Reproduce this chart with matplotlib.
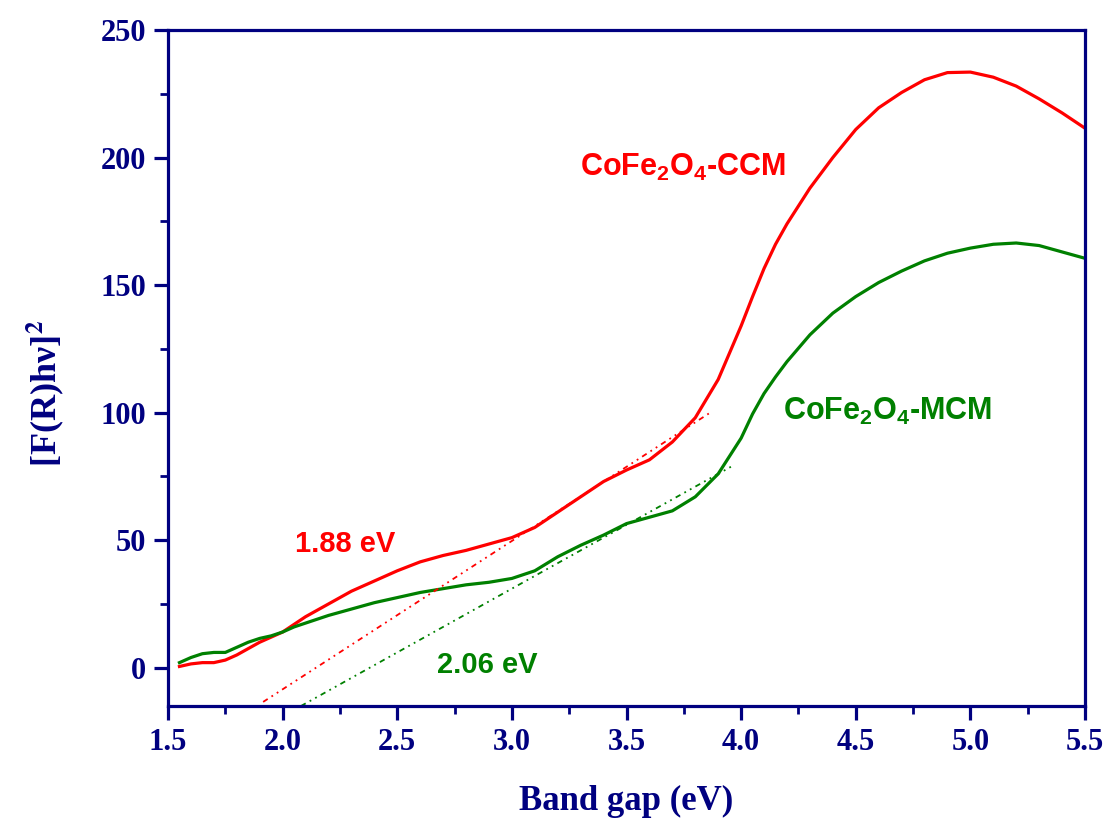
import matplotlib
matplotlib.use("Agg")
import matplotlib.pyplot as plt
import numpy as np

# ---- data ----
energy = [1.55, 1.60, 1.65, 1.70, 1.75, 1.80, 1.85, 1.90, 1.95, 2.00, 2.05, 2.10,
          2.20, 2.30, 2.40, 2.50, 2.60, 2.70, 2.80, 2.90, 3.00, 3.10, 3.20, 3.30,
          3.40, 3.50, 3.60, 3.70, 3.80, 3.90, 4.00, 4.05, 4.10, 4.15, 4.20, 4.30, 4.40,
          4.50, 4.60, 4.70, 4.80, 4.90, 5.00, 5.10, 5.20, 5.30, 5.40, 5.50]
ccm = [0.5, 1.5, 2.0, 2.0, 3.0, 5.0, 7.5, 10.0, 12.0, 14.0, 17.0, 20.0,
       25.0, 30.0, 34.0, 38.0, 41.5, 44.0, 46.0, 48.5, 51.0, 55.0, 61.0, 67.0,
       73.0, 77.5, 81.5, 88.5, 98.0, 113.0, 134.0, 145.5, 156.5, 166.0, 174.0, 188.0, 200.0,
       211.0, 219.5, 225.5, 230.5, 233.3, 233.5, 231.5, 228.0, 223.0, 217.5, 211.5]
mcm = [2.0, 4.0, 5.5, 6.0, 6.0, 8.0, 10.0, 11.5, 12.5, 14.0, 16.0, 17.5,
       20.5, 23.0, 25.5, 27.5, 29.5, 31.0, 32.5, 33.5, 35.0, 38.0, 43.5, 48.0,
       52.0, 56.5, 59.0, 61.5, 67.0, 76.0, 90.0, 99.5, 107.5, 114.0, 120.0, 130.5, 139.0,
       145.5, 151.0, 155.5, 159.5, 162.5, 164.5, 166.0, 166.5, 165.5, 163.0, 160.5]
ccm_fit_x = [1.915, 3.865]
ccm_fit_y = [-13.4, 100.0]
mcm_fit_x = [2.08, 3.96]
mcm_fit_y = [-15.0, 79.0]
xticks = [1.5, 2.0, 2.5, 3.0, 3.5, 4.0, 4.5, 5.0, 5.5]
yticks = [0, 50, 100, 150, 200, 250]

navy = "#000080"
red = "#FF0000"
green = "#008000"

plt.rcParams["mathtext.fontset"] = "custom"
plt.rcParams["mathtext.rm"] = "Liberation Sans"
plt.rcParams["mathtext.bf"] = "Liberation Sans:bold"

fig = plt.figure(figsize=(11.05, 8.19), dpi=100)
ax = fig.add_axes([168/1105, 1-706/819, (1085-168)/1105, (706-30)/819])

ax.plot(energy, ccm, color=red, lw=2.3, solid_joinstyle="round")
ax.plot(energy, mcm, color=green, lw=2.3, solid_joinstyle="round")
ax.plot(ccm_fit_x, ccm_fit_y, color=red, lw=1.3, ls=(0, (3, 2.5, 1, 2.5, 1, 2.5)))
ax.plot(mcm_fit_x, mcm_fit_y, color=green, lw=1.3, ls=(0, (3, 2.5, 1, 2.5, 1, 2.5)))

ax.set_xlim(1.5, 5.5)
ax.set_ylim(-15, 250)
ax.set_xticks(xticks)
ax.set_yticks(yticks)
ax.set_xticks([1.75, 2.25, 2.75, 3.25, 3.75, 4.25, 4.75, 5.25], minor=True)
ax.set_yticks([25, 75, 125, 175, 225], minor=True)
ax.set_xticklabels([f"{v:.1f}" for v in xticks])
ax.set_yticklabels([str(v) for v in yticks])

for s in ax.spines.values():
    s.set_color(navy)
    s.set_linewidth(2.3)
ax.tick_params(which="major", direction="out", length=10, width=2.3, color=navy,
               labelcolor=navy, labelsize=22, pad=6)
ax.tick_params(which="minor", direction="out", length=6, width=2.0, color=navy)
for lab in ax.get_xticklabels() + ax.get_yticklabels():
    lab.set_fontfamily("Liberation Serif")
    lab.set_fontweight("bold")

fig.text(626/1105, 1-801/819, "Band gap (eV)", ha="center", va="center",
         color=navy, fontsize=25, fontweight="bold", family="Liberation Serif")
fig.text(45/1105, 1-393/819, r"[F(R)hν]$^{\mathbf{2}}$", ha="center", va="center",
         rotation=90, color=navy, fontsize=26, fontweight="bold",
         family="Liberation Serif", math_fontfamily="stix")

ax.text(3.297, 193, r"CoFe$_{\mathbf{2}}$O$_{\mathbf{4}}$-CCM", color=red,
        fontsize=22, fontweight="bold", family="Liberation Sans", va="baseline")
ax.text(4.183, 97, r"CoFe$_{\mathbf{2}}$O$_{\mathbf{4}}$-MCM", color=green,
        fontsize=22, fontweight="bold", family="Liberation Sans", va="baseline")
ax.text(2.054, 45.5, "1.88 eV", color=red, fontsize=21, fontweight="bold",
        family="Liberation Sans", va="baseline")
ax.text(2.673, -2, "2.06 eV", color=green, fontsize=21, fontweight="bold",
        family="Liberation Sans", va="baseline")

fig.savefig("out.png", dpi=100)
